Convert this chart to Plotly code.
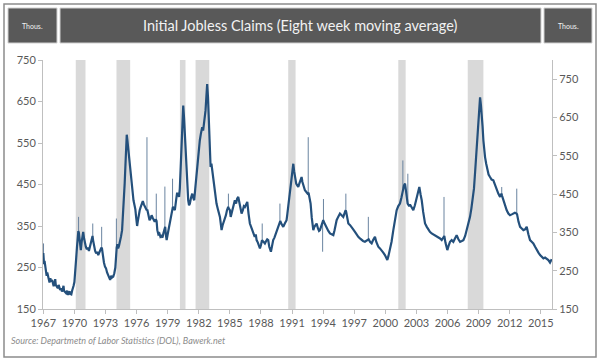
import plotly.graph_objects as go

# ---------------- data ----------------
years = [
1967.00,1967.03,1967.07,1967.12,1967.18,1967.25,1967.32,1967.38,1967.45,1967.52,1967.60,1967.68,1967.75,1967.85,1967.92,
1968.00,1968.08,1968.15,1968.20,1968.30,1968.40,1968.48,1968.55,1968.62,1968.72,1968.80,1968.88,1968.95,
1969.00,1969.10,1969.20,1969.30,1969.40,1969.48,1969.55,1969.62,1969.70,1969.78,1969.85,1969.92,
1970.00,1970.06,1970.12,1970.18,1970.25,1970.32,1970.38,1970.43,1970.50,1970.56,1970.62,1970.70,1970.78,1970.85,1970.92,
1971.00,1971.10,1971.20,1971.30,1971.40,1971.48,1971.55,1971.65,1971.75,1971.80,1971.90,
1972.00,1972.10,1972.20,1972.30,1972.40,1972.50,1972.60,1972.66,1972.75,1972.85,1972.95,
1973.05,1973.15,1973.25,1973.35,1973.45,1973.55,1973.65,1973.75,1973.85,1973.95,
1974.02,1974.08,1974.15,1974.22,1974.30,1974.40,1974.50,1974.60,1974.68,1974.76,1974.85,1974.93,
1975.00,1975.05,1975.10,1975.15,1975.22,1975.30,1975.38,1975.45,1975.52,1975.60,1975.70,1975.80,1975.88,1975.96,
1976.05,1976.12,1976.20,1976.30,1976.40,1976.50,1976.60,1976.70,1976.80,1976.90,1976.98,
1977.03,1977.10,1977.18,1977.25,1977.35,1977.45,1977.55,1977.65,1977.75,1977.85,1977.93,
1978.00,1978.10,1978.20,1978.30,1978.40,1978.50,1978.58,1978.68,1978.76,1978.82,1978.90,
1979.00,1979.10,1979.21,1979.30,1979.40,1979.50,1979.60,1979.69,1979.80,1979.90,
1980.00,1980.10,1980.17,1980.25,1980.34,1980.42,1980.50,1980.58,1980.66,1980.74,1980.82,1980.90,1980.98,
1981.06,1981.14,1981.25,1981.37,1981.46,1981.56,1981.66,1981.78,1981.86,1981.94,
1982.02,1982.10,1982.20,1982.33,1982.42,1982.52,1982.58,1982.65,1982.73,1982.81,1982.89,1982.97,
1983.05,1983.14,1983.22,1983.30,1983.40,1983.49,1983.60,1983.71,1983.85,
1984.04,1984.12,1984.20,1984.30,1984.40,1984.52,1984.62,1984.72,1984.84,1984.90,
1985.00,1985.08,1985.16,1985.30,1985.40,1985.48,1985.60,1985.70,1985.81,1985.95,
1986.05,1986.13,1986.25,1986.35,1986.45,1986.55,1986.68,1986.80,1986.93,
1987.05,1987.15,1987.25,1987.40,1987.50,1987.58,1987.70,1987.80,1987.90,
1988.00,1988.10,1988.15,1988.25,1988.38,1988.50,1988.60,1988.70,1988.80,1988.96,
1989.05,1989.18,1989.30,1989.40,1989.50,1989.60,1989.72,1989.80,1989.86,
1990.00,1990.15,1990.30,1990.47,1990.55,1990.63,1990.75,1990.86,1990.98,
1991.06,1991.12,1991.20,1991.28,1991.40,1991.50,1991.60,1991.70,1991.80,1991.92,
1992.00,1992.10,1992.24,1992.38,1992.50,1992.59,1992.68,1992.79,1992.90,
1993.05,1993.15,1993.25,1993.37,1993.50,1993.60,1993.69,1993.80,1993.90,
1994.01,1994.06,1994.20,1994.33,1994.50,1994.66,1994.80,1994.98,
1995.10,1995.20,1995.30,1995.45,1995.62,1995.78,1995.94,
1996.05,1996.17,1996.22,1996.30,1996.43,1996.60,1996.75,1996.90,
1997.07,1997.20,1997.39,1997.55,1997.71,1997.85,
1998.03,1998.20,1998.34,1998.39,1998.52,1998.68,1998.82,
1999.00,1999.12,1999.20,1999.32,1999.48,1999.64,1999.80,1999.96,
2000.10,2000.19,2000.30,2000.45,2000.60,2000.77,2000.92,
2001.09,2001.25,2001.41,2001.55,2001.67,2001.72,2001.80,2001.90,
2002.02,2002.15,2002.20,2002.30,2002.38,2002.55,2002.70,2002.85,
2003.02,2003.15,2003.28,2003.40,2003.51,2003.65,2003.83,
2004.00,2004.15,2004.30,2004.47,2004.62,2004.79,2004.95,
2005.11,2005.28,2005.44,2005.55,2005.64,2005.69,2005.80,2005.98,
2006.10,2006.24,2006.40,2006.56,2006.72,2006.88,
2007.05,2007.21,2007.38,2007.53,2007.70,2007.85,
2008.00,2008.17,2008.30,2008.43,2008.55,2008.65,2008.73,2008.81,2008.90,2008.98,
2009.06,2009.14,2009.22,2009.30,2009.38,2009.46,2009.54,2009.62,2009.73,2009.84,2009.96,
2010.10,2010.25,2010.42,2010.58,2010.75,2010.90,
2011.07,2011.20,2011.27,2011.39,2011.55,2011.71,2011.87,
2012.03,2012.20,2012.35,2012.50,2012.66,2012.71,2012.85,
2013.00,2013.16,2013.32,2013.48,2013.64,2013.80,2013.96,
2014.12,2014.28,2014.45,2014.61,2014.77,2014.93,
2015.10,2015.25,2015.41,2015.57,2015.73,2015.89,2016.00,2016.05,
]

claims = [
285,268,258,266,250,240,230,238,230,222,214,224,216,220,208,
205,212,222,208,204,200,208,204,196,200,192,198,206,
194,190,188,194,184,190,192,186,185,194,198,206,
215,230,248,275,300,322,338,334,318,305,292,312,328,336,322,
310,300,294,298,290,298,306,316,326,316,300,
290,284,288,280,286,290,298,296,270,262,252,
248,238,232,224,220,230,226,228,236,250,
290,298,306,296,302,312,325,340,370,410,452,500,
545,570,560,548,535,510,490,465,450,430,412,400,390,370,
350,362,378,388,396,404,410,402,396,392,388,
390,380,370,364,368,376,370,362,360,366,362,
340,330,332,324,326,322,332,345,348,330,316,
330,345,356,370,388,396,392,388,410,428,
428,420,440,480,532,590,640,610,572,520,468,430,412,
400,404,418,428,418,412,440,476,500,524,
540,556,572,588,580,596,610,628,660,692,660,612,
550,492,500,484,468,452,428,404,390,
372,356,340,352,360,364,376,388,396,392,
388,372,380,396,404,412,404,416,420,400,
384,380,388,398,396,402,408,380,356,
348,340,332,324,330,316,310,302,296,
304,316,314,312,308,314,318,316,300,288,
300,316,322,330,336,344,350,360,362,
354,348,356,364,380,396,425,452,478,
490,500,482,468,452,448,444,452,462,468,
456,446,436,432,428,430,418,404,370,
340,348,352,356,344,338,340,350,358,
364,360,352,348,338,332,330,328,
340,354,364,372,380,376,372,
380,388,384,368,356,352,348,342,
336,330,324,320,316,314,
312,314,316,318,312,308,316,
324,312,306,300,296,292,286,280,
272,268,278,292,312,340,366,
388,398,404,418,436,444,448,452,
420,404,402,398,402,394,388,400,
420,432,444,426,412,384,356,
348,340,336,332,330,328,326,
324,320,316,320,324,326,310,292,
302,312,316,312,320,328,
318,312,314,316,326,340,
352,372,392,412,440,476,510,548,580,612,
640,660,642,620,590,556,530,516,500,484,474,
468,462,460,448,436,428,
420,428,422,412,400,388,380,
376,378,380,382,380,378,360,
348,344,340,342,348,330,316,
312,308,300,292,286,280,
276,272,274,272,268,262,266,270,
]

# isolated one-week outliers (base value -> outlier value)
spike_years = [1967.02, 1970.40, 1971.77, 1972.63, 1974.05, 1977.00, 1977.90, 1978.73, 1979.47,
               1984.86, 1988.12, 1989.83, 1992.56, 1993.95, 1994.03, 1996.19, 1998.36,
               2001.69, 2002.17, 2005.66, 2011.23, 2012.68]
spike_base  = [270, 338, 326, 298, 294, 390, 364, 346, 394,
               394, 315, 361, 429, 360, 362, 386, 317,
               440, 403, 325, 425, 379]
spike_peak  = [308, 372, 356, 348, 368, 564, 428, 445, 464,
               428, 356, 404, 564, 288, 415, 428, 372,
               508, 476, 420, 444, 440]

recession_start = [1970.13, 1974.06, 1980.18, 1981.69, 1990.63, 2001.25, 2007.95]
recession_end   = [1971.07, 1975.38, 1980.72, 1983.01, 1991.34, 2001.96, 2009.46]

x_tick_labels = [str(y) for y in range(1967, 2016, 3)]
y_ticks = [150, 250, 350, 450, 550, 650, 750]

title_text = "Initial Jobless Claims (Eight week moving average)"
unit_text = "Thous."
source_text = "Source: Departmetn of Labor Statistics (DOL), Bawerk.net"

# ---------------- layout geometry ----------------
W, H = 600, 363
ML, MR, MT, MB = 43, 48, 60, 54
PW, PH = W - ML - MR, H - MT - MB

def px(xp):
    return (xp - ML) / PW

def py(yp):
    return (H - MB - yp) / PH

LABEL_COLOR = "#595959"
AXIS_COLOR = "#bfbfbf"
LINE_COLOR = "#24507c"
FONT = "Lato"

fig = go.Figure()

# thin one-week outliers drawn as vertical strokes
sx, sy = [], []
for yr, b, p in zip(spike_years, spike_base, spike_peak):
    sx += [yr, yr, None]
    sy += [b, p, None]
fig.add_trace(go.Scatter(
    x=sx, y=sy, mode="lines", line=dict(color="#6a84a0", width=1),
    showlegend=False, hoverinfo="skip", connectgaps=False,
))

fig.add_trace(go.Scatter(
    x=years, y=claims, mode="lines",
    line=dict(color=LINE_COLOR, width=2.2),
    showlegend=False, hoverinfo="skip",
))
# trace on the secondary axis so it is drawn
fig.add_trace(go.Scatter(
    x=[years[0]], y=[claims[0]], yaxis="y2", mode="markers",
    marker=dict(opacity=0), showlegend=False, hoverinfo="skip",
))

shapes = []
for s, e in zip(recession_start, recession_end):
    shapes.append(dict(type="rect", xref="x", yref="paper", x0=s, x1=e, y0=0, y1=1,
                       fillcolor="#d9d9d9", line=dict(width=0), layer="below"))

# outer frame
shapes.append(dict(type="rect", xref="paper", yref="paper",
                   x0=px(4), x1=px(596), y0=py(357), y1=py(4),
                   line=dict(color="#8c8c8c", width=1.5), fillcolor="rgba(0,0,0,0)"))
# title bar boxes
for x0, x1 in [(8, 57), (60, 541), (544, 592)]:
    shapes.append(dict(type="rect", xref="paper", yref="paper",
                       x0=px(x0), x1=px(x1), y0=py(43), y1=py(8),
                       fillcolor="#595959", line=dict(color="#d0d0d0", width=1)))

annotations = [
    dict(text=title_text, x=px(300), y=py(25.5), xref="paper", yref="paper",
         showarrow=False, font=dict(family=FONT, size=14.5, color="#f2f2f2"),
         xanchor="center", yanchor="middle"),
    dict(text=unit_text, x=px(32.5), y=py(25.5), xref="paper", yref="paper",
         showarrow=False, font=dict(family=FONT, size=7, color="#f2f2f2"),
         xanchor="center", yanchor="middle"),
    dict(text=unit_text, x=px(568), y=py(25.5), xref="paper", yref="paper",
         showarrow=False, font=dict(family=FONT, size=7, color="#f2f2f2"),
         xanchor="center", yanchor="middle"),
    dict(text="<i>" + source_text + "</i>", x=px(9), y=py(340), xref="paper", yref="paper",
         showarrow=False, font=dict(family=FONT, size=9, color="#8c8c8c"),
         xanchor="left", yanchor="middle"),
]

fig.update_layout(
    width=W, height=H,
    margin=dict(l=ML, r=MR, t=MT, b=MB, pad=0),
    paper_bgcolor="white", plot_bgcolor="white",
    shapes=shapes, annotations=annotations,
    font=dict(family=FONT, size=11, color=LABEL_COLOR),
    xaxis=dict(
        range=[1966.97, 2016.08],
        tickvals=[int(t) for t in x_tick_labels], ticktext=x_tick_labels,
        ticks="outside", ticklen=4, tickcolor=AXIS_COLOR,
        showline=True, linecolor=AXIS_COLOR, linewidth=1,
        showgrid=False, zeroline=False,
        tickfont=dict(family=FONT, size=11, color=LABEL_COLOR),
    ),
    yaxis=dict(
        range=[150, 750], tickvals=y_ticks,
        ticks="outside", ticklen=4, tickcolor=AXIS_COLOR,
        showline=True, linecolor=AXIS_COLOR, linewidth=1,
        showgrid=False, zeroline=False,
        tickfont=dict(family=FONT, size=11, color=LABEL_COLOR),
    ),
    yaxis2=dict(
        range=[150, 800], tickvals=y_ticks, overlaying="y", side="right",
        ticks="outside", ticklen=4, tickcolor=AXIS_COLOR,
        showline=True, linecolor=AXIS_COLOR, linewidth=1,
        showgrid=False, zeroline=False,
        tickfont=dict(family=FONT, size=11, color=LABEL_COLOR),
    ),
)

fig.write_html("out.html", config={"displayModeBar": False},
               post_script="document.body.style.margin='0';")
